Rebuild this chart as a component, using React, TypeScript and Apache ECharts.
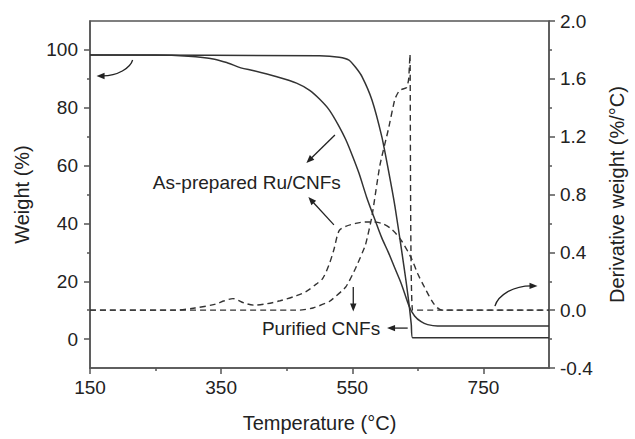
import React, { useEffect, useRef } from "react";
import * as echarts from "echarts";

// As-prepared Ru/CNFs – weight (%) vs temperature (°C)
const ruT = [150, 250, 300, 340, 360, 380, 400, 435, 465, 485, 500, 515, 530, 540, 550, 560, 572, 585, 595, 605, 615, 625, 637, 645, 655, 665, 680, 850];
const ruW = [98.2, 98.2, 97.8, 96.8, 95.5, 93.8, 92.8, 90.7, 88.5, 86, 83, 79.2, 73.5, 69, 63.5, 57.5, 49, 41, 35, 30, 24.5, 19, 11.2, 8, 6, 5, 4.5, 4.5];
// Purified CNFs – weight (%)
const cnfT = [150, 500, 530, 545, 555, 565, 580, 595, 605, 615, 625, 632, 637, 640, 642, 850];
const cnfW = [98.2, 98, 97.5, 96.5, 94, 90.7, 82.7, 70, 58.5, 46, 31, 20, 11.2, 5, 0.5, 0.5];
// As-prepared Ru/CNFs – derivative weight (%/°C)
const ruDT = [150, 280, 310, 340, 355, 368, 385, 400, 420, 440, 465, 480, 495, 505, 515, 522, 530, 540, 555, 570, 580, 595, 610, 625, 640, 650, 660, 675, 687, 850];
const ruD = [0, 0, 0.015, 0.04, 0.065, 0.08, 0.05, 0.035, 0.045, 0.065, 0.1, 0.13, 0.18, 0.22, 0.32, 0.42, 0.55, 0.58, 0.6, 0.61, 0.61, 0.6, 0.56, 0.48, 0.36, 0.25, 0.16, 0.04, 0, 0];
// Purified CNFs – derivative weight (%/°C)
const cnfDT = [150, 470, 490, 515, 540, 555, 570, 580, 592, 605, 615, 622, 633, 636, 638, 642, 850];
const cnfD = [0, 0, 0.015, 0.06, 0.16, 0.29, 0.45, 0.65, 1.0, 1.25, 1.46, 1.52, 1.54, 1.6, 1.77, 0, 0];

// Axis ticks
const xLabels = [150, 350, 550, 750];
const xMinor = [250, 450, 650];
const yLabels = [0, 20, 40, 60, 80, 100];
const yMinor = [10, 30, 50, 70, 90];

const FONT = "Liberation Sans";
const AXIS = "#555";
const INK = "#222";
const CURVE = "#333";

const pairs = (xs: number[], ys: number[]) => xs.map((x, i) => [x, ys[i]]);

function arrowHead(x2: number, y2: number, ang: number, color: string) {
  const L = 8, W = 3.2;
  const bx = x2 - L * Math.cos(ang), by = y2 - L * Math.sin(ang);
  const nx = -Math.sin(ang) * W, ny = Math.cos(ang) * W;
  return {
    type: "polygon",
    shape: { points: [[x2, y2], [bx + nx, by + ny], [bx - nx, by - ny]] },
    style: { fill: color },
    silent: true,
  };
}

function straightArrow(a: number[], b: number[], color: string) {
  const ang = Math.atan2(b[1] - a[1], b[0] - a[0]);
  const bx = b[0] - 6 * Math.cos(ang), by = b[1] - 6 * Math.sin(ang);
  return [
    { type: "line", shape: { x1: a[0], y1: a[1], x2: bx, y2: by }, style: { stroke: color, lineWidth: 1.3 }, silent: true },
    arrowHead(b[0], b[1], ang, color),
  ];
}

function curvedArrow(a: number[], c1: number[], c2: number[], b: number[], color: string) {
  const ang = Math.atan2(b[1] - c2[1], b[0] - c2[0]);
  const bx = b[0] - 6 * Math.cos(ang), by = b[1] - 6 * Math.sin(ang);
  return [
    {
      type: "bezierCurve",
      shape: { x1: a[0], y1: a[1], cpx1: c1[0], cpy1: c1[1], cpx2: c2[0], cpy2: c2[1], x2: bx, y2: by },
      style: { stroke: color, lineWidth: 1.3, fill: "none" },
      silent: true,
    },
    arrowHead(b[0], b[1], ang, color),
  ];
}

const tickStyle = { color: AXIS, width: 1.5 };

function tickOnlyAxis(min: number, max: number, position: string, values: number[], length: number) {
  return {
    type: "value", min, max, position,
    axisLine: { show: false, onZero: false },
    axisTick: { show: true, length, customValues: values, lineStyle: tickStyle },
    axisLabel: { show: false },
    splitLine: { show: false },
  };
}

export default function App() {
  const ref = useRef<HTMLDivElement>(null);
  useEffect(() => {
    const chart = echarts.init(ref.current!, null, { renderer: "svg" });
    const labelStyle = { fontFamily: FONT, fontSize: 19, color: INK };
    const titleStyle = { fontFamily: FONT, fontSize: 20, color: INK };
    const solid = { color: CURVE, width: 1.5 };
    const dashed = { color: CURVE, width: 1.4, type: [6, 4] as any };
    chart.setOption({
      animation: false,
      backgroundColor: "#fff",
      grid: { left: 90, right: 78, top: 21, bottom: 71, show: true, borderColor: AXIS, borderWidth: 1.5, backgroundColor: "transparent" },
      xAxis: [
        {
          type: "value", min: 150, max: 850, position: "bottom",
          axisLine: { show: true, onZero: false, lineStyle: { color: AXIS, width: 1.5 } },
          axisTick: { show: false },
          axisLabel: { customValues: xLabels, margin: 10, ...labelStyle },
          splitLine: { show: false },
          name: "Temperature (°C)", nameLocation: "middle", nameGap: 45,
          nameTextStyle: { ...titleStyle },
        },
        tickOnlyAxis(150, 850, "bottom", xLabels, 6),
        tickOnlyAxis(150, 850, "bottom", xMinor, 3),
      ],
      yAxis: [
        {
          type: "value", min: -10, max: 110, position: "left",
          axisLine: { show: true, onZero: false, lineStyle: { color: AXIS, width: 1.5 } },
          axisTick: { show: false },
          axisLabel: { customValues: yLabels, margin: 12, ...labelStyle },
          splitLine: { show: false },
          name: "Weight (%)", nameLocation: "middle", nameGap: 58, nameRotate: 90,
          nameTextStyle: { ...titleStyle },
        },
        {
          type: "value", min: -0.4, max: 2.0, interval: 0.4, position: "right",
          axisLine: { show: true, onZero: false, lineStyle: { color: AXIS, width: 1.5 } },
          axisTick: { show: true, length: 6, lineStyle: tickStyle },
          minorTick: { show: true, splitNumber: 2, length: 3, lineStyle: tickStyle },
          axisLabel: { margin: 11, formatter: (v: number) => v.toFixed(1), ...labelStyle },
          splitLine: { show: false },
          minorSplitLine: { show: false },
          name: "Derivative weight (%/°C)", nameLocation: "middle", nameGap: 58, nameRotate: 90,
          nameTextStyle: { ...titleStyle },
        },
        tickOnlyAxis(-10, 110, "left", yLabels, 6),
        tickOnlyAxis(-10, 110, "left", yMinor, 3),
      ],
      series: [
        { type: "line", name: "As-prepared Ru/CNFs", xAxisIndex: 0, yAxisIndex: 0, data: pairs(ruT, ruW), showSymbol: false, smooth: 0.3, lineStyle: solid, silent: true },
        { type: "line", name: "Purified CNFs", xAxisIndex: 0, yAxisIndex: 0, data: pairs(cnfT, cnfW), showSymbol: false, smooth: 0.2, lineStyle: solid, silent: true },
        { type: "line", name: "As-prepared Ru/CNFs DTG", xAxisIndex: 0, yAxisIndex: 1, data: pairs(ruDT, ruD), showSymbol: false, smooth: 0.3, lineStyle: dashed, silent: true },
        { type: "line", name: "Purified CNFs DTG", xAxisIndex: 0, yAxisIndex: 1, data: pairs(cnfDT, cnfD), showSymbol: false, smooth: 0.15, lineStyle: dashed, silent: true },
      ],
    });

    const p = (x: number, y: number) => chart.convertToPixel({ seriesIndex: 0 }, [x, y]) as number[];
    const ink = "#222";
    const textStyle = { fontFamily: FONT, fontSize: 19, fill: ink };
    const t1 = p(532.5, 54);
    const t2 = p(592.5, 3.8);
    chart.setOption({
      graphic: [
        { type: "text", x: t1[0], y: t1[1], style: { ...textStyle, text: "As-prepared Ru/CNFs", align: "right", verticalAlign: "middle" }, silent: true },
        { type: "text", x: t2[0], y: t2[1], style: { ...textStyle, text: "Purified CNFs", align: "right", verticalAlign: "middle" }, silent: true },
        ...straightArrow(p(523.5, 70.6), p(480, 60.9), ink),
        ...straightArrow(p(522, 39.5), p(483, 49.1), ink),
        ...straightArrow(p(634.5, 3.8), p(603, 3.8), ink),
        ...straightArrow(p(551.5, 18), p(551.5, 9.5), ink),
        ...curvedArrow(p(215, 96.5), p(211.5, 93.7), p(192, 91.0), p(160, 91.0), ink),
        ...curvedArrow(p(767.5, 11.4), p(772.5, 15.2), p(795, 18.4), p(832.5, 18.4), ink),
      ],
    });
    return () => chart.dispose();
  }, []);
  return <div ref={ref} style={{ position: "fixed", left: 0, top: 0, width: 635, height: 439 }} />;
}
